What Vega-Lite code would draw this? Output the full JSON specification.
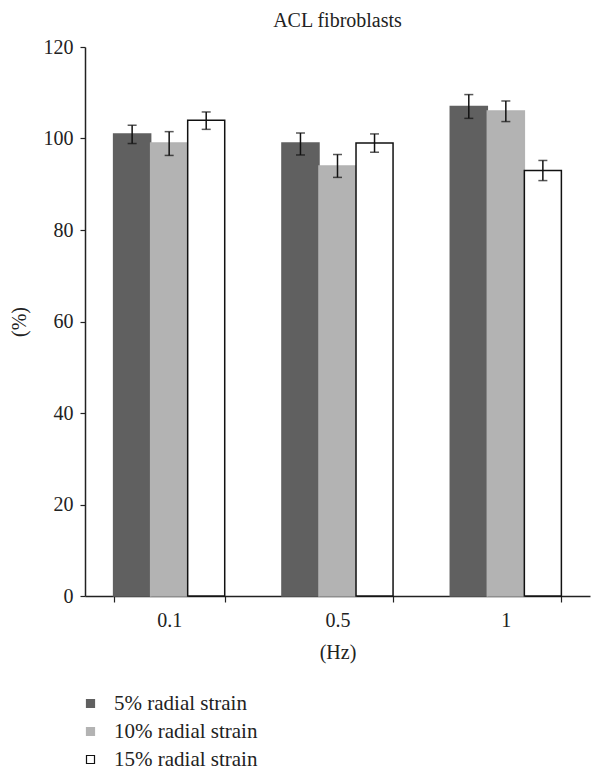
{
  "$schema": "https://vega.github.io/schema/vega-lite/v6.json",
  "autosize": "none",
  "padding": {"left": 85, "top": 47, "right": 13, "bottom": 179},
  "width": 505,
  "height": 549,
  "background": "white",
  "title": {"text": "ACL fibroblasts", "font": "Liberation Serif", "fontSize": 20, "fontWeight": "normal", "color": "#222", "offset": 6},
  "config": {"view": {"stroke": null}, "font": "Liberation Serif"},
  "data": {"values": [
    {"hz": "0.1", "strain": "5% radial strain", "value": 101, "lo": 98.9, "hi": 102.9},
    {"hz": "0.1", "strain": "10% radial strain", "value": 99, "lo": 96.3, "hi": 101.5},
    {"hz": "0.1", "strain": "15% radial strain", "value": 104, "lo": 102.0, "hi": 105.8},
    {"hz": "0.5", "strain": "5% radial strain", "value": 99, "lo": 96.4, "hi": 101.2},
    {"hz": "0.5", "strain": "10% radial strain", "value": 94, "lo": 91.5, "hi": 96.5},
    {"hz": "0.5", "strain": "15% radial strain", "value": 99, "lo": 97.0, "hi": 101.0},
    {"hz": "1", "strain": "5% radial strain", "value": 107, "lo": 104.4, "hi": 109.6},
    {"hz": "1", "strain": "10% radial strain", "value": 106, "lo": 103.7, "hi": 108.2},
    {"hz": "1", "strain": "15% radial strain", "value": 93, "lo": 90.8, "hi": 95.2}
  ]},
  "encoding": {
    "x": {"field": "hz", "type": "nominal", "sort": ["0.1", "0.5", "1"],
      "scale": {"paddingInner": 0.34, "paddingOuter": 0.17},
      "axis": {"title": "(Hz)", "labelAngle": 0, "tickBand": "extent", "tickSize": 6, "tickColor": "#222", "domainColor": "#222", "domainWidth": 1.5, "tickWidth": 1.2,
        "labelFont": "Liberation Serif", "labelFontSize": 20, "labelColor": "#222", "labelPadding": 8,
        "titleFont": "Liberation Serif", "titleFontSize": 20, "titleFontWeight": "normal", "titleColor": "#222", "titlePadding": 12}},
    "xOffset": {"field": "strain", "type": "nominal", "sort": ["5% radial strain", "10% radial strain", "15% radial strain"], "scale": {"paddingInner": 0, "paddingOuter": 0}},
    "y": {"type": "quantitative"}
  },
  "layer": [
    {
      "mark": {"type": "bar", "strokeWidth": 1.5},
      "encoding": {
        "y": {"field": "value", "type": "quantitative", "scale": {"domain": [0, 120]},
          "axis": {"title": "(%)", "values": [0, 20, 40, 60, 80, 100, 120], "grid": false, "tickSize": 5, "tickColor": "#222", "domainColor": "#222", "domainWidth": 1.5, "tickWidth": 1.2,
            "labelFont": "Liberation Serif", "labelFontSize": 20, "labelColor": "#222", "labelPadding": 7,
            "titleFont": "Liberation Serif", "titleFontSize": 20, "titleFontWeight": "normal", "titleColor": "#222", "titlePadding": 14}},
        "fill": {"field": "strain", "type": "nominal", "sort": ["5% radial strain", "10% radial strain", "15% radial strain"],
          "scale": {"domain": ["5% radial strain", "10% radial strain", "15% radial strain"], "range": ["#606060", "#b3b3b3", "#ffffff"]},
          "legend": {"title": null, "orient": "none", "legendX": -5, "legendY": 646, "symbolType": "square", "symbolSize": 64, "symbolStrokeWidth": 1.2,
            "labelFont": "Liberation Serif", "labelFontSize": 21, "labelColor": "#222", "rowPadding": 6, "labelOffset": 13}},
        "stroke": {"field": "strain", "type": "nominal", "sort": ["5% radial strain", "10% radial strain", "15% radial strain"],
          "scale": {"domain": ["5% radial strain", "10% radial strain", "15% radial strain"], "range": ["#606060", "#b3b3b3", "#111111"]},
          "legend": {"title": null, "orient": "none", "legendX": -5, "legendY": 646, "symbolType": "square", "symbolSize": 64, "symbolStrokeWidth": 1.2,
            "labelFont": "Liberation Serif", "labelFontSize": 21, "labelColor": "#222", "rowPadding": 6, "labelOffset": 13}}
      }
    },
    {
      "mark": {"type": "rule", "color": "#111", "strokeWidth": 1.5},
      "encoding": {"y": {"field": "lo", "type": "quantitative"}, "y2": {"field": "hi"}}
    },
    {
      "mark": {"type": "tick", "color": "#111", "thickness": 1.5, "size": 9},
      "encoding": {"y": {"field": "lo", "type": "quantitative"}}
    },
    {
      "mark": {"type": "tick", "color": "#111", "thickness": 1.5, "size": 9},
      "encoding": {"y": {"field": "hi", "type": "quantitative"}}
    }
  ]
}
